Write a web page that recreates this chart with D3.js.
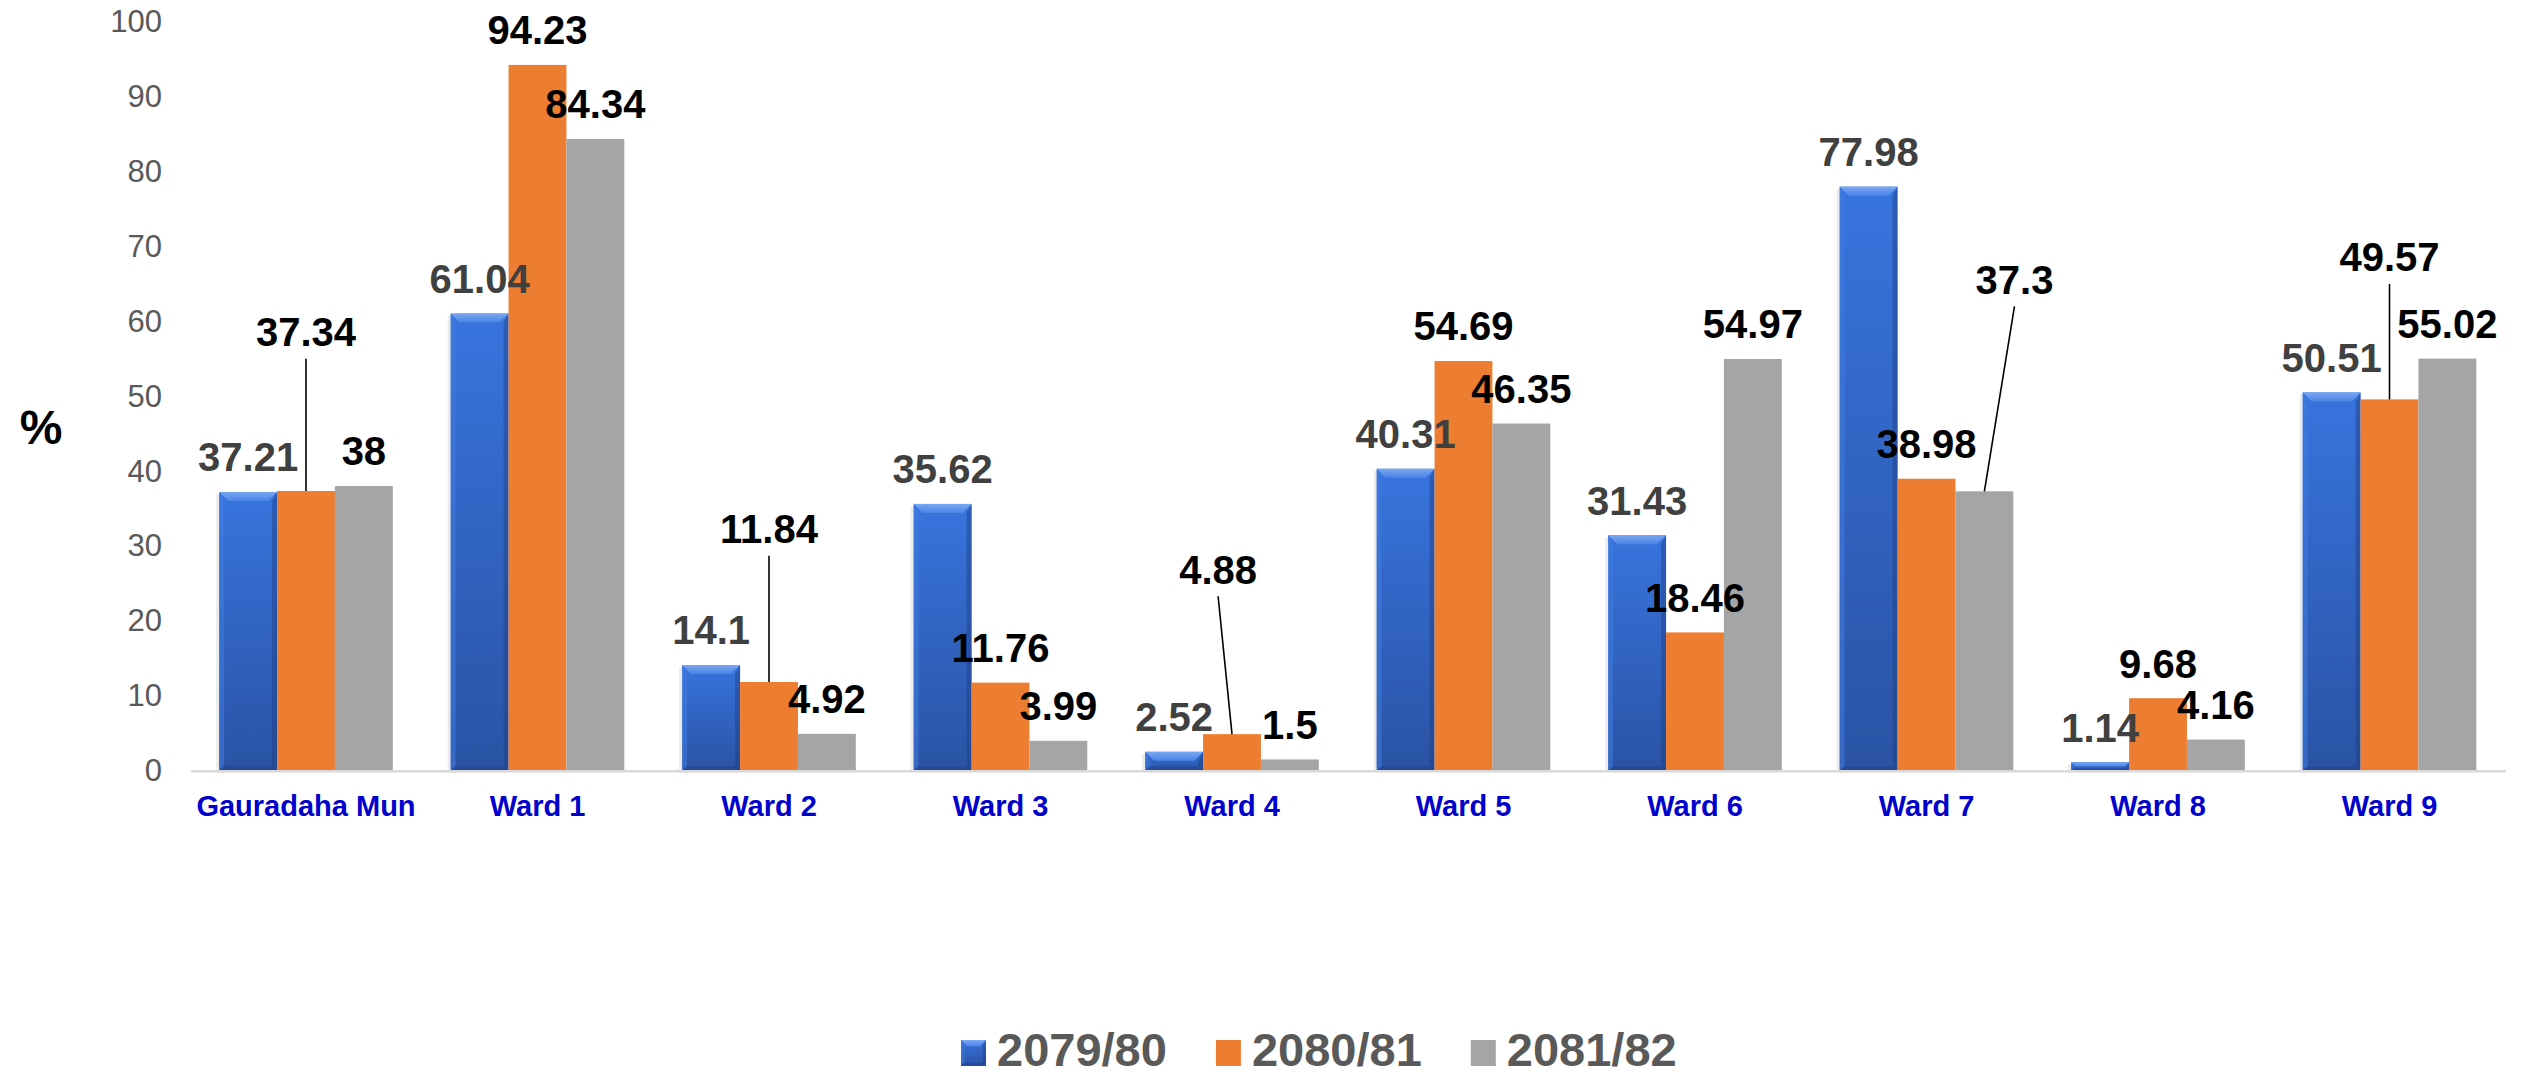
<!DOCTYPE html>
<html>
<head>
<meta charset="utf-8">
<script src="https://cdn.jsdelivr.net/npm/d3@7"></script>
<style>
  html, body { margin: 0; padding: 0; background: #ffffff; }
  svg { display: block; }
  text { font-family: "Liberation Sans", Arial, Helvetica, sans-serif; }
</style>
</head>
<body>
<div id="chart"></div>
<script>
// ---------------- DATA ----------------
const categories = ["Gauradaha Mun", "Ward 1", "Ward 2", "Ward 3", "Ward 4", "Ward 5", "Ward 6", "Ward 7", "Ward 8", "Ward 9"];
const seriesNames = ["2079/80", "2080/81", "2081/82"];
const values2079 = [37.21, 61.04, 14.1, 35.62, 2.52, 40.31, 31.43, 77.98, 1.14, 50.51];
const values2080 = [37.34, 94.23, 11.84, 11.76, 4.88, 54.69, 18.46, 38.98, 9.68, 49.57];
const values2081 = [38, 84.34, 4.92, 3.99, 1.5, 46.35, 54.97, 37.3, 4.16, 55.02];
const yTicks = [0, 10, 20, 30, 40, 50, 60, 70, 80, 90, 100];
const yAxisTitle = "%";
// Labels drawn away from their bar with a leader line: label height in data units, shift in bar widths
const calloutCategories = ["Gauradaha Mun", "Ward 2", "Ward 4", "Ward 7", "Ward 9"];
const calloutSeries = ["2080/81", "2080/81", "2080/81", "2081/82", "2080/81"];
const calloutLabelValues = [58.6, 32.3, 26.9, 65.6, 68.6];
const calloutShiftBars = [0, 0, -0.24, 0.52, 0];

// ---------------- SETUP ----------------
const W = 2525, H = 1076;
const seriesValues = [values2079, values2080, values2081];
const seriesFill = ["url(#blueGrad)", "#ED7D31", "#A5A5A5"];
const labelColor = ["#404040", "#000000", "#000000"];

const svg = d3.select("#chart").append("svg")
  .attr("width", W).attr("height", H);

const defs = svg.append("defs");
const bg = defs.append("linearGradient").attr("id", "blueGrad")
  .attr("x1", 0).attr("y1", 0).attr("x2", 0).attr("y2", 1);
bg.append("stop").attr("offset", "0%").attr("stop-color", "#3874DE");
bg.append("stop").attr("offset", "100%").attr("stop-color", "#2A53A4");
const bt = defs.append("linearGradient").attr("id", "bevelTop")
  .attr("x1", 0).attr("y1", 0).attr("x2", 0).attr("y2", 1);
bt.append("stop").attr("offset", "0%").attr("stop-color", "#7AA8F2");
bt.append("stop").attr("offset", "100%").attr("stop-color", "#4A84E6");

const x0 = d3.scaleBand().domain(categories).range([190.25, 2505.25])
  .paddingInner(0.25).paddingOuter(0.125);
const x1 = d3.scaleBand().domain(seriesNames).range([0, x0.bandwidth()]);
const y = d3.scaleLinear().domain([0, 100]).range([770.7, 21.7]);

// Y axis (labels only)
const yAxis = svg.append("g").attr("transform", "translate(162,0)")
  .call(d3.axisLeft(y).tickValues(yTicks).tickSize(0).tickPadding(0));
yAxis.select(".domain").remove();
yAxis.selectAll("text").attr("fill", "#595959")
  .style("font-size", "31px").style("font-family", "'Liberation Sans', Arial, sans-serif");

// y title
svg.append("text").attr("x", 41).attr("y", 427).attr("dy", "0.36em")
  .attr("text-anchor", "middle").attr("font-size", 48).attr("font-weight", "bold")
  .attr("fill", "#000").text(yAxisTitle);

// bars
const rows = [];
categories.forEach((c, i) => {
  seriesNames.forEach((s, j) => rows.push({ cat: c, ser: s, si: j, v: seriesValues[j][i] }));
});

const barG = svg.append("g");
const bw = x1.bandwidth();
function bevel(g, x, yt, w, h) {
  const b = Math.min(9, h / 2, w / 4);
  g.append("rect").attr("x", x).attr("y", yt).attr("width", w).attr("height", h)
    .attr("fill", "url(#blueGrad)");
  g.append("path").attr("d", `M${x},${yt}L${x + w},${yt}L${x + w - b},${yt + b}L${x + b},${yt + b}Z`)
    .attr("fill", "url(#bevelTop)");
  g.append("path").attr("d", `M${x},${yt}L${x + b * 0.55},${yt + b}L${x + b * 0.55},${yt + h - b * 0.5}L${x},${yt + h}Z`)
    .attr("fill", "#3F7BE0").attr("opacity", 0.55);
  g.append("path").attr("d", `M${x + w},${yt}L${x + w - b * 0.55},${yt + b}L${x + w - b * 0.55},${yt + h - b * 0.5}L${x + w},${yt + h}Z`)
    .attr("fill", "#1F3F80").attr("opacity", 0.45);
  g.append("path").attr("d", `M${x},${yt + h}L${x + b * 0.55},${yt + h - b * 0.5}L${x + w - b * 0.55},${yt + h - b * 0.5}L${x + w},${yt + h}Z`)
    .attr("fill", "#1F3F80").attr("opacity", 0.4);
}
rows.forEach(d => {
  const x = x0(d.cat) + x1(d.ser);
  const yt = y(d.v);
  const h = y(0) - yt;
  if (d.si === 0) {
    const g = barG.append("g");
    g.append("rect").attr("x", x - 3).attr("y", yt + 2).attr("width", bw + 1).attr("height", h)
      .attr("fill", "#000").attr("opacity", 0.08);
    bevel(g, x, yt, bw, h);
  } else {
    barG.append("rect").attr("x", x).attr("y", yt).attr("width", bw).attr("height", h)
      .attr("fill", seriesFill[d.si]);
  }
});

// X axis
const xAxis = svg.append("g").attr("transform", `translate(0,${y(0)})`)
  .call(d3.axisBottom(x0).tickSize(0).tickPadding(25));
xAxis.select(".domain").attr("stroke", "#D9D9D9").attr("stroke-width", 2.5);
xAxis.selectAll("text").attr("fill", "#0000CC")
  .style("font-size", "29px").style("font-weight", "bold")
  .style("font-family", "'Liberation Sans', Arial, sans-serif");

// data labels
const labelG = svg.append("g");
rows.forEach(d => {
  const ci = calloutCategories.findIndex((c, k) => c === d.cat && calloutSeries[k] === d.ser);
  const cx = x0(d.cat) + x1(d.ser) + bw / 2;
  let lx = cx, ly = y(d.v) - 35;
  if (ci >= 0) {
    lx = cx + calloutShiftBars[ci] * bw;
    ly = y(calloutLabelValues[ci]);
    labelG.append("line")
      .attr("x1", lx).attr("y1", ly + 27)
      .attr("x2", cx).attr("y2", y(d.v))
      .attr("stroke", "#000").attr("stroke-width", 1.6);
  }
  labelG.append("text").attr("x", lx).attr("y", ly).attr("dy", "0.36em")
    .attr("text-anchor", "middle").attr("font-size", 40).attr("font-weight", "bold")
    .attr("fill", labelColor[d.si]).text(d.v);
});

// legend
const legend = svg.append("g");
let lx = 961;
seriesNames.forEach((s, j) => {
  const g = legend.append("g");
  if (j === 0) bevel(g, lx, 1040, 25, 26);
  else g.append("rect").attr("x", lx).attr("y", 1040).attr("width", 25).attr("height", 26).attr("fill", seriesFill[j]);
  const t = g.append("text").attr("x", lx + 36).attr("y", 1066)
    .attr("font-size", 47).attr("font-weight", "bold").attr("fill", "#595959").text(s);
  lx += 36 + t.node().getComputedTextLength() + 49;
});
</script>
</body>
</html>
